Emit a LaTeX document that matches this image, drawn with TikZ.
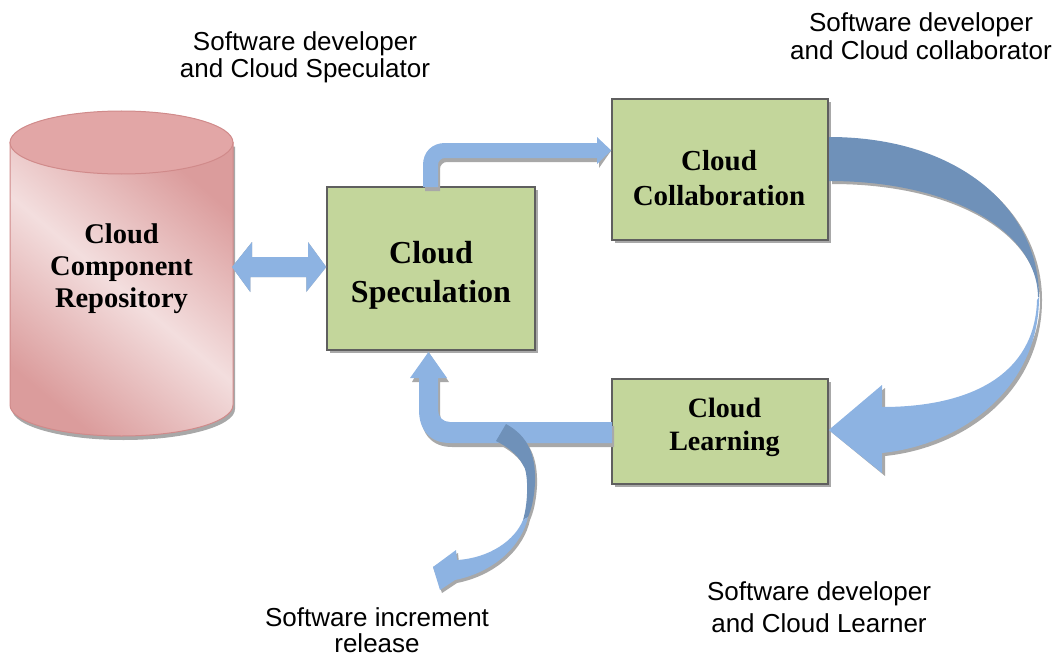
\documentclass[tikz,border=0pt]{standalone}
\usepackage{fontspec}
\setmainfont{Liberation Serif}
\setsansfont{Liberation Sans}
\usetikzlibrary{shadows}
\definecolor{boxgreen}{HTML}{C3D69B}
\definecolor{boxline}{HTML}{5F5F5F}
\definecolor{shadowgray}{HTML}{A8A8A8}
\definecolor{lblue}{HTML}{8DB3E2}
\definecolor{dblue}{HTML}{6F91B9}
\definecolor{pkdark}{HTML}{DB9C9C}
\definecolor{pklight}{HTML}{F3DEDE}
\definecolor{pktop}{HTML}{E2A6A6}
\definecolor{pkline}{HTML}{D08A8A}
\tikzset{
  stagebox/.style={draw=boxline, line width=1.5pt, fill=boxgreen, inner sep=0pt,
    drop shadow={shadow xshift=3pt, shadow yshift=-3pt, fill=shadowgray, opacity=1}},
  boxtext/.style={align=center, inner sep=0pt, anchor=base},
  rolelab/.style={font=\sffamily\fontsize{26}{#1}\selectfont, align=center, inner sep=0pt, anchor=base},
  shade/.style={fill=shadowgray, draw=none},
  bluearrow/.style={fill=lblue, draw=none},
  darkarrow/.style={fill=dblue, draw=none}
}
\begin{document}
\begin{tikzpicture}[x=1pt, y=-1pt]
\useasboundingbox (0,0) rectangle (1056,658);

% ---------- cylinder ----------
\begin{scope}[shift={(2,4)}]
  \path[shade] (10,142.5) -- (10,405) arc[start angle=180, end angle=0, x radius=111.5, y radius=31] -- (233,142.5) -- cycle;
\end{scope}
\path[draw=pkline, line width=1pt, top color=pkdark, bottom color=pkdark, middle color=pklight, shading angle=-40]
  (10,142.5) -- (10,405) arc[start angle=180, end angle=0, x radius=111.5, y radius=31] -- (233,142.5) -- cycle;
\path[draw=pkline, line width=1pt, fill=pktop] (121.5,142.5) ellipse[x radius=111.5, y radius=31.5];
\node[boxtext, font=\bfseries\fontsize{28.5}{32}\selectfont] (repoText) at (121.5,307) {Cloud\\Component\\Repository};

% ---------- boxes ----------
\node[stagebox, minimum width=208pt, minimum height=163pt] (spec) at (431,268.5) {};
\node[stagebox, minimum width=216pt, minimum height=141pt] (collab) at (720,169.5) {};
\node[stagebox, minimum width=216pt, minimum height=105pt] (learn) at (720,431.5) {};

\node[boxtext, font=\bfseries\fontsize{32}{39}\selectfont] (specText) at (431,302) {Cloud\\Speculation};
\node[boxtext, font=\bfseries\fontsize{29}{35}\selectfont] (collabText) at (719,205) {Cloud\\Collaboration};
\node[boxtext, font=\bfseries\fontsize{28}{33}\selectfont] (learnText) at (724.5,450) {Cloud\\Learning};

% ---------- double arrow repository <-> speculation ----------
\coordinate (dL) at (232,267);
\coordinate (dR) at (spec.west |- dL);
\begin{scope}[shift={(2,4)}]
  \path[shade] (dL) -- ++(20,-25) -- ++(0,15) -- ++(56,0) -- ++(0,-15) -- (dR) -- ++(-20,25) -- ++(0,-15) -- ++(-56,0) -- ++(0,15) -- cycle;
\end{scope}
\path[bluearrow] (dL) -- ++(20,-25) -- ++(0,15) -- ++(56,0) -- ++(0,-15) -- (dR) -- ++(-20,25) -- ++(0,-15) -- ++(-56,0) -- ++(0,15) -- cycle;

% ---------- bent arrow speculation -> collaboration ----------
\coordinate (tTip) at (collab.west |- 0,150.5);
\begin{scope}[shift={(2,4)}]
  \path[shade] (423,187) -- (423,165) .. controls (423,152) and (432,143) .. (445,143) -- (597,143) -- (597,137) -- (tTip) -- (597,164) -- (597,158) -- (445,158) .. controls (441,158) and (438,161) .. (438,165) -- (438,187) -- cycle;
\end{scope}
\path[bluearrow] (423,187) -- (423,165) .. controls (423,152) and (432,143) .. (445,143) -- (597,143) -- (597,137) -- (tTip) -- (597,164) -- (597,158) -- (445,158) .. controls (441,158) and (438,161) .. (438,165) -- (438,187) -- cycle;

% ---------- big curved arrow collaboration -> learning ----------
\coordinate (cTip) at (learn.east |- 0,430);
\begin{scope}[shift={(3,3)}]
  \path[shade] (829,137) .. controls (960,137) and (1039,210) .. (1039,297) .. controls (1039,390) and (960,445) .. (882,453) -- (882,473) -- (cTip) -- (882,385) -- (882,407) .. controls (970,407) and (1035,375) .. (1037,300) .. controls (1037,230) and (950,181) .. (829,181) -- cycle;
\end{scope}
\path[darkarrow] (829,137) .. controls (960,137) and (1039,210) .. (1039,297) -- (1038,297) .. controls (1037,230) and (950,181) .. (829,181) -- cycle;
\path[bluearrow] (1039,297) .. controls (1039,390) and (960,445) .. (882,453) -- (882,473) -- (cTip) -- (882,385) -- (882,407) .. controls (970,407) and (1035,375) .. (1037,300) -- cycle;

% ---------- bent arrow learning -> speculation ----------
\coordinate (bTip) at (428.5,352);
\begin{scope}[shift={(2,4)}]
  \path[shade] (612,422) -- (450,422) .. controls (443,422) and (438,417) .. (438,410) -- (438,378) -- (447,378) -- (bTip) -- (410,378) -- (419,378) -- (419,410) .. controls (419,430) and (430,443) .. (450,443) -- (612,443) -- cycle;
\end{scope}
\path[bluearrow] (612,422) -- (450,422) .. controls (443,422) and (438,417) .. (438,410) -- (438,378) -- (447,378) -- (bTip) -- (410,378) -- (419,378) -- (419,410) .. controls (419,430) and (430,443) .. (450,443) -- (612,443) -- cycle;

% ---------- curl arrow: software increment release ----------
\coordinate (rTip) at (433,567);
\begin{scope}[shift={(2,3)}]
  \path[shade] (496,441) -- (506,424) .. controls (528,436) and (536,455) .. (535,483) .. controls (534,500) and (531,510) .. (528,517) .. controls (522,545) and (495,572) .. (455,580) -- (440,590) -- (rTip) -- (456,550) -- (457,560) .. controls (490,558) and (515,540) .. (523,520) .. controls (529,500) and (528,470) .. (523,465) .. controls (518,455) and (508,447) .. (496,441) -- cycle;
\end{scope}
\path[darkarrow] (496,441) -- (506,424) .. controls (528,436) and (536,455) .. (535,483) .. controls (534,500) and (531,510) .. (528,517) -- (523,520) .. controls (529,500) and (528,470) .. (523,465) .. controls (518,455) and (508,447) .. (496,441) -- cycle;
\path[bluearrow] (528,517) .. controls (522,545) and (495,572) .. (455,580) -- (440,590) -- (rTip) -- (456,550) -- (457,560) .. controls (490,558) and (515,540) .. (523,520) -- cycle;

% ---------- role labels ----------
\node[rolelab=28] (specLab) at (305,78) {Software developer\\and Cloud Speculator};
\node[rolelab=28] (collabLab) at (921,60) {Software developer\\and Cloud collaborator};
\node[rolelab=32] (learnLab) at (819,632) {Software developer\\and Cloud Learner};
\node[rolelab=26] (relLab) at (377,652) {Software increment\\release};
\end{tikzpicture}
\end{document}
